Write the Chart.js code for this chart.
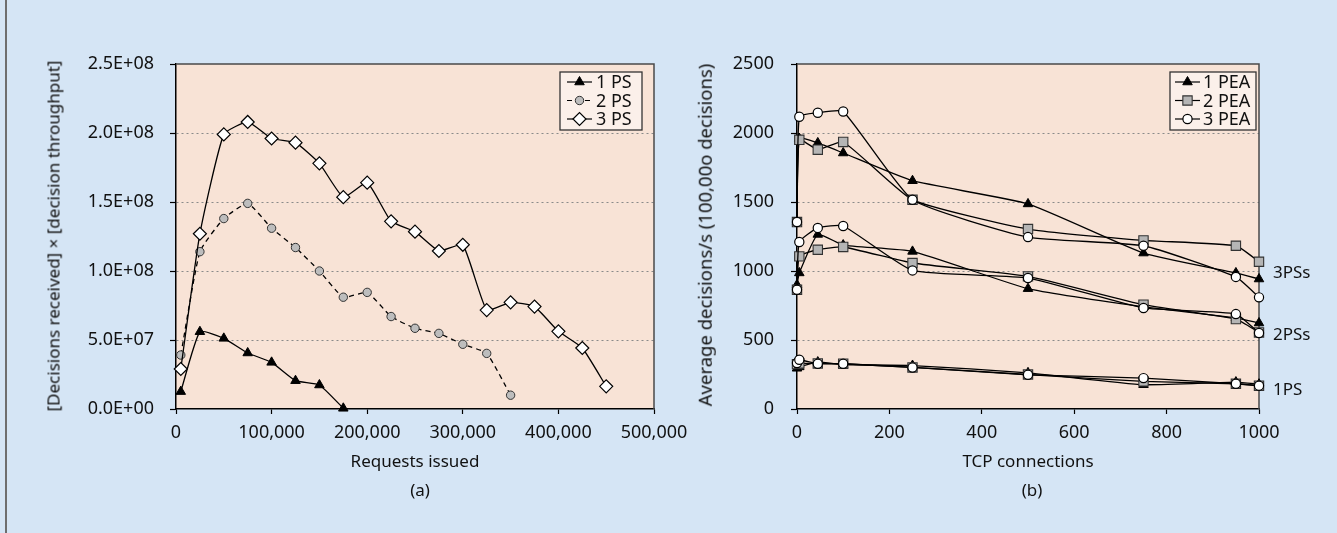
<!DOCTYPE html>
<html>
<head>
<meta charset="utf-8">
<script src="https://cdn.jsdelivr.net/npm/chart.js@4.4.1/dist/chart.umd.min.js"></script>
<style>
  html, body { margin: 0; padding: 0; }
  body { width: 1337px; height: 533px; background: #d5e5f5; position: relative; overflow: hidden;
         font-family: "Noto Sans", sans-serif; color: #111; }
  .frame { position: absolute; left: 5px; top: 0; bottom: 0; width: 2px; background: #6e6e6e; }
  canvas { position: absolute; top: 0; }
  .lbl { position: absolute; font-size: 17px; white-space: nowrap; line-height: 1; }
  .ctr { transform: translate(-50%, -50%); }
  .rot { transform: translate(-50%, -50%) rotate(-90deg); }
  .side { transform: translateY(-50%); }
</style>
</head>
<body>
<div class="frame"></div>
<canvas id="chartA" width="720" height="533" style="left:0"></canvas>
<canvas id="chartB" width="677" height="533" style="left:660px"></canvas>

<div class="lbl rot" style="left:53px; top:236px">[Decisions received] × [decision throughput]</div>
<div class="lbl ctr" style="left:415px; top:460px">Requests issued</div>
<div class="lbl ctr" style="left:420px; top:489px">(a)</div>

<div class="lbl rot" style="left:705px; top:235px; font-size:18.5px">Average decisions/s (100,00o decisions)</div>
<div class="lbl ctr" style="left:1028px; top:460px">TCP connections</div>
<div class="lbl ctr" style="left:1032px; top:489px">(b)</div>
<div class="lbl side" style="left:1273px; top:271px">3PSs</div>
<div class="lbl side" style="left:1273px; top:333px">2PSs</div>
<div class="lbl side" style="left:1273px; top:388px">1PS</div>

<script>
// (a) requests issued vs decisions received x throughput
const reqs1 = [5000, 25000, 50000, 75000, 100000, 125000, 150000, 175000];
const ps1 = [1.26e7, 5.6e7, 5.12e7, 4.06e7, 3.38e7, 2.05e7, 1.74e7, 0.05e7];

const reqs2 = [5000, 25000, 50000, 75000, 100000, 125000, 150000, 175000, 200000,
  225000, 250000, 275000, 300000, 325000, 350000];
const ps2 = [3.91e7, 1.14e8, 1.38e8, 1.49e8, 1.31e8, 1.17e8, 1.0e8, 8.1e7, 8.45e7,
  6.7e7, 5.85e7, 5.48e7, 4.69e7, 4.03e7, 1.0e7];

const reqs3 = [5000, 25000, 50000, 75000, 100000, 125000, 150000, 175000, 200000, 225000,
  250000, 275000, 300000, 325000, 350000, 375000, 400000, 425000, 450000];
const ps3 = [2.9e7, 1.27e8, 1.99e8, 2.08e8, 1.96e8, 1.93e8, 1.78e8, 1.535e8, 1.64e8, 1.36e8,
  1.285e8, 1.145e8, 1.19e8, 7.17e7, 7.73e7, 7.42e7, 5.63e7, 4.42e7, 1.64e7];

// (b) TCP connections vs average decisions/s
const conns = [0, 5, 45, 100, 250, 500, 750, 950, 1000];
const pea1Ps3 = [1355, 1960, 1928, 1855, 1654, 1486, 1130, 986, 942];
const pea2Ps3 = [1355, 1951, 1879, 1935, 1516, 1304, 1222, 1183, 1067];
const pea3Ps3 = [1355, 2118, 2147, 2156, 1516, 1246, 1183, 957, 809];
const pea1Ps2 = [900, 986, 1265, 1188, 1142, 872, 740, 660, 623];
const pea2Ps2 = [864, 1106, 1154, 1174, 1058, 961, 756, 652, 555];
const pea3Ps2 = [864, 1210, 1312, 1326, 1004, 949, 732, 688, 551];
const pea1Ps1 = [295, 305, 340, 322, 315, 262, 176, 195, 180];
const pea2Ps1 = [325, 330, 330, 328, 301, 250, 200, 183, 169];
const pea3Ps1 = [333, 357, 328, 328, 301, 248, 224, 183, 169];

const FONT = { family: 'Noto Sans', size: 18 };
const PLOT_BG = '#f8e3d6';
const TENSION = 0.15;

const pts = (xs, ys) => xs.map((x, i) => ({ x, y: ys[i] }));

const sci = v => {
  if (v === 0) return '0.0E+00';
  const e = Math.floor(Math.log10(v) + 1e-9);
  return (v / Math.pow(10, e)).toFixed(1) + 'E+' + String(e).padStart(2, '0');
};

// plot background + top/right frame
const plotFrame = {
  id: 'plotFrame',
  beforeDraw(chart) {
    const { ctx, chartArea: a } = chart;
    ctx.save();
    ctx.fillStyle = PLOT_BG;
    ctx.fillRect(a.left, a.top, a.right - a.left, a.bottom - a.top);
    ctx.restore();
  },
  beforeDatasetsDraw(chart) {
    const { ctx, chartArea: a } = chart;
    ctx.save();
    ctx.strokeStyle = '#4a4a4a';
    ctx.lineWidth = 1.5;
    ctx.beginPath();
    ctx.moveTo(a.left, a.top);
    ctx.lineTo(a.right, a.top);
    ctx.lineTo(a.right, a.bottom);
    ctx.stroke();
    ctx.restore();
  }
};

// legend box inside the plot
const boxLegend = {
  id: 'boxLegend',
  afterDraw(chart, args, o) {
    const { ctx } = chart;
    ctx.save();
    ctx.fillStyle = '#fbf0ea';
    ctx.fillRect(o.x, o.y, o.w, o.h);
    ctx.strokeStyle = '#333';
    ctx.lineWidth = 1.3;
    ctx.strokeRect(o.x, o.y, o.w, o.h);
    o.items.forEach((idx, i) => {
      const ds = chart.data.datasets[idx];
      const cy = o.rows[i];
      ctx.strokeStyle = '#000';
      ctx.lineWidth = 1.2;
      ctx.setLineDash(ds.borderDash || []);
      ctx.beginPath();
      ctx.moveTo(o.lineFrom, cy);
      ctx.lineTo(o.lineTo, cy);
      ctx.stroke();
      ctx.setLineDash([]);
      ctx.fillStyle = ds.pointBackgroundColor;
      ctx.strokeStyle = ds.pointBorderColor;
      ctx.lineWidth = ds.pointBorderWidth;
      Chart.helpers.drawPoint(ctx, {
        pointStyle: ds.pointStyle, radius: ds.pointRadius, rotation: 0, borderWidth: ds.pointBorderWidth
      }, (o.lineFrom + o.lineTo) / 2, cy);
      ctx.fillStyle = '#111';
      ctx.font = '18px "Noto Sans"';
      ctx.textBaseline = 'middle';
      ctx.textAlign = 'left';
      ctx.fillText(ds.label, o.textX, cy + 1);
    });
    ctx.restore();
  }
};

const yGrid = max => ({
  color: c => (c.tick && (c.tick.value === 0 || c.tick.value === max)) ? 'transparent' : '#8a8a8a',
  lineWidth: 1,
  tickColor: '#000',
  tickLength: 6,
  tickWidth: 1.2
});

function lineStyle(kind) {
  const base = { borderColor: '#000', borderWidth: 1.3, tension: TENSION, clip: false, pointBorderColor: '#000' };
  if (kind === 'tri') return { ...base, pointStyle: 'triangle', pointRadius: 5.5, pointBackgroundColor: '#000', pointBorderWidth: 1 };
  if (kind === 'dot') return { ...base, borderDash: [5, 4], pointStyle: 'circle', pointRadius: 4.2, pointBackgroundColor: '#bdbdbd', pointBorderColor: '#333', pointBorderWidth: 1 };
  if (kind === 'dia') return { ...base, pointStyle: 'rectRot', pointRadius: 6.5, pointBackgroundColor: '#fff', pointBorderWidth: 1.2 };
  if (kind === 'sq') return { ...base, pointStyle: 'rect', pointRadius: 6.6, pointBackgroundColor: '#b5b5b5', pointBorderColor: '#333', pointBorderWidth: 1.1 };
  return { ...base, pointStyle: 'circle', pointRadius: 4.6, pointBackgroundColor: '#fff', pointBorderWidth: 1.2 };
}

new Chart(document.getElementById('chartA'), {
  type: 'line',
  data: {
    datasets: [
      { label: '1 PS', data: pts(reqs1, ps1), order: 2, ...lineStyle('tri') },
      { label: '2 PS', data: pts(reqs2, ps2), order: 1, ...lineStyle('dot') },
      { label: '3 PS', data: pts(reqs3, ps3), order: 0, ...lineStyle('dia') }
    ]
  },
  options: {
    responsive: false,
    animation: false,
    layout: { padding: { left: 0, top: 64, right: 66, bottom: 84 } },
    plugins: {
      legend: { display: false },
      tooltip: { enabled: false },
      boxLegend: { x: 560, y: 72, w: 82, h: 58, items: [0, 1, 2], rows: [82, 100.5, 119], lineFrom: 567, lineTo: 592, textX: 596 }
    },
    scales: {
      x: {
        type: 'linear', min: 0, max: 500000,
        afterFit: s => { s.height = 40; },
        grid: { drawOnChartArea: false, tickColor: '#000', tickLength: 5, tickWidth: 1.2 },
        border: { color: '#000', width: 1.5 },
        ticks: { stepSize: 100000, autoSkip: false, maxRotation: 0, padding: 8, color: '#111', font: FONT,
                 callback: v => v.toLocaleString('en-US') }
      },
      y: {
        min: 0, max: 2.5e8,
        afterFit: s => { s.width = 176; },
        grid: yGrid(2.5e8),
        border: { color: '#000', width: 1.5, dash: [2, 3] },
        ticks: { stepSize: 5e7, padding: 16, color: '#111', font: FONT, callback: v => sci(v) }
      }
    }
  },
  plugins: [plotFrame, boxLegend]
});

new Chart(document.getElementById('chartB'), {
  type: 'line',
  data: {
    datasets: [
      { label: '1 PEA', data: pts(conns, pea1Ps3), order: 2, ...lineStyle('tri') },
      { label: '2 PEA', data: pts(conns, pea2Ps3), order: 1, ...lineStyle('sq') },
      { label: '3 PEA', data: pts(conns, pea3Ps3), order: 0, ...lineStyle('ring') },
      { label: '1 PEA', data: pts(conns, pea1Ps2), order: 2, ...lineStyle('tri') },
      { label: '2 PEA', data: pts(conns, pea2Ps2), order: 1, ...lineStyle('sq') },
      { label: '3 PEA', data: pts(conns, pea3Ps2), order: 0, ...lineStyle('ring') },
      { label: '1 PEA', data: pts(conns, pea1Ps1), order: 2, ...lineStyle('tri') },
      { label: '2 PEA', data: pts(conns, pea2Ps1), order: 1, ...lineStyle('sq') },
      { label: '3 PEA', data: pts(conns, pea3Ps1), order: 0, ...lineStyle('ring') }
    ]
  },
  options: {
    responsive: false,
    animation: false,
    layout: { padding: { left: 0, top: 64, right: 78, bottom: 84 } },
    plugins: {
      legend: { display: false },
      tooltip: { enabled: false },
      boxLegend: { x: 510, y: 72, w: 86, h: 58, items: [0, 1, 2], rows: [82, 100.5, 119], lineFrom: 515, lineTo: 540, textX: 543 }
    },
    scales: {
      x: {
        type: 'linear', min: 0, max: 1000,
        afterFit: s => { s.height = 40; },
        grid: { drawOnChartArea: false, tickColor: '#000', tickLength: 5, tickWidth: 1.2 },
        border: { color: '#000', width: 1.5 },
        ticks: { stepSize: 200, autoSkip: false, maxRotation: 0, padding: 8, color: '#111', font: FONT,
                 callback: v => String(v) }
      },
      y: {
        min: 0, max: 2500,
        afterFit: s => { s.width = 137; },
        grid: yGrid(2500),
        border: { color: '#000', width: 1.5, dash: [2, 3] },
        ticks: { stepSize: 500, padding: 17, color: '#111', font: FONT, callback: v => String(v) }
      }
    }
  },
  plugins: [plotFrame, boxLegend]
});
</script>
</body>
</html>
